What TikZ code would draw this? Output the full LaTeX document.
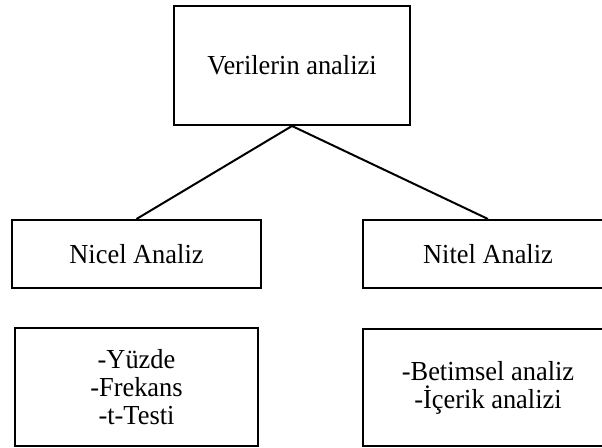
\documentclass[tikz,border=0pt]{standalone}
\usepackage{fontspec}
\setmainfont[FakeStretch=0.96]{Liberation Serif}
\begin{document}
\begin{tikzpicture}[x=1pt,y=-1pt,
  boxstyle/.style={draw=black, line width=2pt, inner sep=0pt, align=center,
    font=\fontsize{27.5}{28}\selectfont},
  link/.style={line width=2pt}]
\useasboundingbox (0,0) rectangle (602,447);
\clip (0,0) rectangle (602,447);
\node[boxstyle, minimum width=236pt, minimum height=119pt] (top) at (292,65.5) {Verilerin analizi};
\node[boxstyle, minimum width=249pt, minimum height=68pt] (nicel) at (136.5,254) {Nicel Analiz};
\node[boxstyle, minimum width=250pt, minimum height=68pt] (nitel) at (488,254) {Nitel Analiz};
\node[boxstyle, minimum width=243pt, minimum height=118pt] (yuzde) at (136.5,387) {-Yüzde\\-Frekans\\-t-Testi};
\node[boxstyle, minimum width=250pt, minimum height=117pt] (betim) at (488,387.5) {-Betimsel analiz\\-İçerik analizi};
\draw[link] (top.south) -- (nicel.north);
\draw[link] (top.south) -- (nitel.north);
\end{tikzpicture}
\end{document}
